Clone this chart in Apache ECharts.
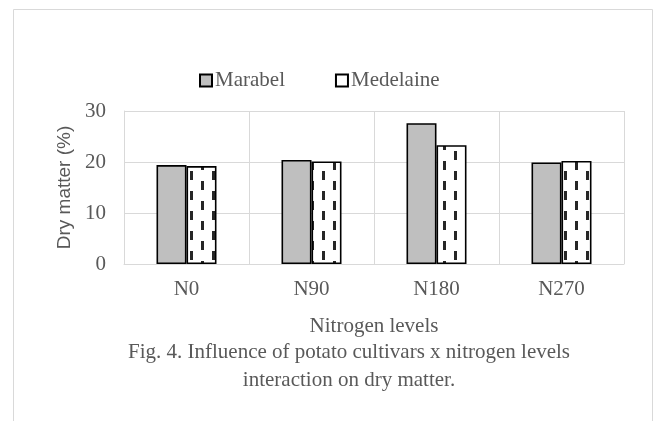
<!DOCTYPE html>
<html>
<head>
<meta charset="utf-8">
<script src="https://cdn.jsdelivr.net/npm/echarts@6/dist/echarts.min.js"></script>
<style>
html,body{margin:0;padding:0;background:#fff;}
#chart{width:667px;height:421px;}
</style>
</head>
<body>
<div id="chart"></div>
<script>
var categories = ['N0', 'N90', 'N180', 'N270'];
var seriesNames = ['Marabel', 'Medelaine'];
var marabel = [19.4, 20.4, 27.6, 19.9];
var medelaine = [19.2, 20.1, 23.3, 20.2];
var yTicks = [0, 10, 20, 30];
var xTitle = 'Nitrogen levels';
var yTitle = 'Dry matter (%)';
var captionLines = ['Fig. 4. Influence of potato cultivars x nitrogen levels', 'interaction on dry matter.'];

// dashed pattern for Medelaine
var pc = document.createElement('canvas');
pc.width = 22; pc.height = 20;
var g = pc.getContext('2d');
g.fillStyle = '#ffffff';
g.fillRect(0, 0, 22, 20);
g.fillStyle = '#262626';
g.fillRect(3, 1, 3, 9);
g.fillRect(14, 11, 3, 9);

var serif = '"Liberation Serif", "Times New Roman", serif';
var sans = '"Liberation Sans", Arial, sans-serif';
var txtColor = '#595959';
var fs = 21;

var chart = echarts.init(document.getElementById('chart'), null, {renderer: 'canvas'});
chart.setOption({
  animation: false,
  backgroundColor: '#ffffff',
  grid: {left: 124, right: 43, top: 111, bottom: 157},
  legend: {
    left: 199, top: 70, padding: 0,
    itemWidth: 12, itemHeight: 12, itemGap: 50,
    icon: 'rect',
    textStyle: {fontFamily: serif, fontSize: fs, color: txtColor, padding: [0, 0, 0, -2]},
    data: [
      {name: seriesNames[0], itemStyle: {color: '#bfbfbf', borderColor: '#000', borderWidth: 2}},
      {name: seriesNames[1], itemStyle: {color: '#ffffff', borderColor: '#000', borderWidth: 2}}
    ]
  },
  xAxis: {
    type: 'category',
    data: categories,
    name: xTitle,
    nameLocation: 'middle',
    nameGap: 52,
    nameTextStyle: {fontFamily: serif, fontSize: fs, color: txtColor},
    axisLine: {show: true, lineStyle: {color: '#d9d9d9', width: 1}},
    axisTick: {show: false},
    splitLine: {show: true, lineStyle: {color: '#d9d9d9', width: 1}},
    axisLabel: {fontFamily: serif, fontSize: fs, color: txtColor, margin: 15}
  },
  yAxis: {
    type: 'value',
    min: yTicks[0], max: yTicks[yTicks.length - 1], interval: 10,
    name: yTitle,
    nameLocation: 'middle',
    nameGap: 50,
    nameRotate: 90,
    nameTextStyle: {fontFamily: sans, fontSize: 19, color: txtColor},
    axisLine: {show: true, lineStyle: {color: '#d9d9d9', width: 1}},
    axisTick: {show: false},
    splitLine: {show: true, lineStyle: {color: '#d9d9d9', width: 1}},
    axisLabel: {fontFamily: serif, fontSize: fs, color: txtColor, margin: 18}
  },
  series: [
    {
      name: seriesNames[0], type: 'bar', data: marabel,
      barWidth: 30, barGap: '0%',
      itemStyle: {color: '#bfbfbf', borderColor: '#000', borderWidth: 1.6}
    },
    {
      name: seriesNames[1], type: 'bar', data: medelaine,
      barWidth: 30, barGap: '0%',
      itemStyle: {color: {image: pc, repeat: 'repeat'}, borderColor: '#000', borderWidth: 1.6}
    }
  ],
  graphic: [
    {type: 'rect', shape: {x: 13.5, y: 9.5, width: 639, height: 440}, style: {fill: 'none', stroke: '#d9d9d9', lineWidth: 1}, silent: true, z: -1},
    {type: 'text', x: 349, y: 352, style: {text: captionLines[0], fontFamily: serif, fontSize: fs, fill: txtColor, align: 'center', verticalAlign: 'middle'}},
    {type: 'text', x: 349, y: 380, style: {text: captionLines[1], fontFamily: serif, fontSize: fs, fill: txtColor, align: 'center', verticalAlign: 'middle'}}
  ]
});
</script>
</body>
</html>
